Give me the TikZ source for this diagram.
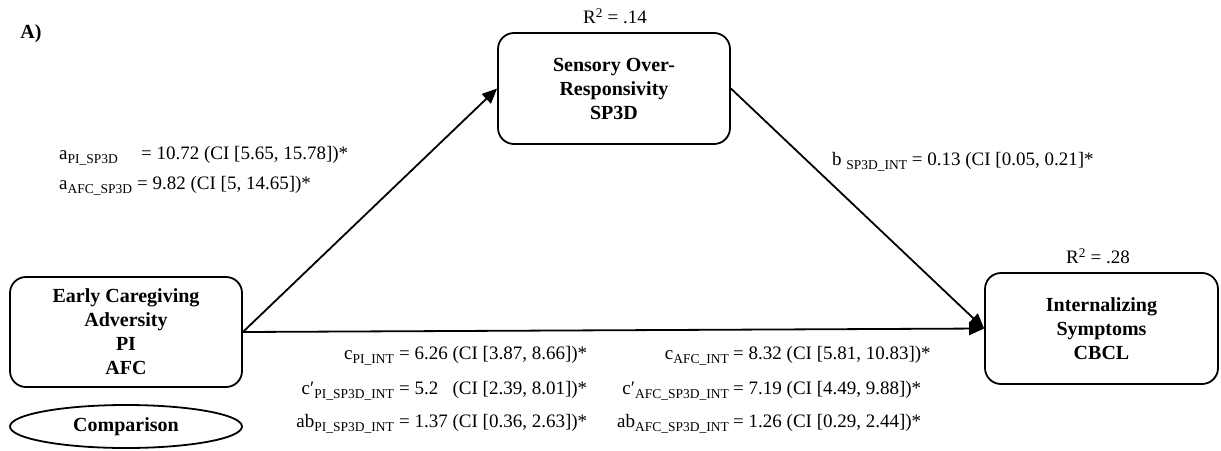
\documentclass[tikz,border=0pt]{standalone}
\usepackage{fontspec}
\setmainfont{Liberation Serif}
\usetikzlibrary{arrows.meta,shapes.geometric}
\newcommand{\sbs}[1]{\raisebox{-4.5pt}{\fontsize{13.5}{13.5}\selectfont #1}}
\newlength{\numw}
\tikzset{
  varbox/.style={draw, line width=1.8pt, rounded corners=16pt, minimum width=232pt,
    minimum height=111pt, align=center, inner sep=0pt,
    font=\fontsize{20}{24}\selectfont\bfseries},
  ovalbox/.style={draw, ellipse, line width=1.8pt, minimum width=232pt,
    minimum height=43pt, inner sep=0pt, font=\fontsize{20}{24}\selectfont\bfseries},
  lbl/.style={inner sep=0pt, font=\fontsize{19}{22}\selectfont},
  arr/.style={line width=1.8pt, -{Triangle[length=15pt,width=13pt]}}
}
\begin{document}
\begin{tikzpicture}[x=1pt,y=-1pt]
\useasboundingbox (0,0) rectangle (1221,450);

\node[inner sep=0pt, font=\fontsize{20}{24}\selectfont\bfseries] (title) at (31,34) {A)};

\node[varbox] (sens) at (614,88.5) {Sensory Over-\\Responsivity\\SP3D};
\node[varbox, minimum height=110pt] (early) at (126,332) {Early Caregiving\\Adversity\\PI\\AFC};
\node[varbox, minimum width=233pt] (int) at (1101.5,328.5) {Internalizing\\Symptoms\\CBCL};
\node[ovalbox] (comp) at (126,426.5) {Comparison};

\node[lbl] (r1) at (615,16) {R\textsuperscript{2} = .14};
\node[lbl] (r2) at (1098,256) {R\textsuperscript{2} = .28};

\draw[arr] (early.east) -- (sens.west);
\draw[arr] (sens.east) -- (int.west);
\draw[arr] (early.east) -- (int.west);

% a paths
\node[lbl, anchor=base west] (a1n) at (59,159) {a\sbs{PI\_SP3D}};
\node[lbl, anchor=base west] (a1v) at (141,159) {= 10.72 (CI [5.65, 15.78])*};
\node[lbl, anchor=base west] (a2n) at (59,189) {a\sbs{AFC\_SP3D}};
\node[lbl, anchor=base west] (a2v) at (137,189) {= 9.82 (CI [5, 14.65])*};

% b path
\node[lbl, anchor=base west] (b1) at (832,165) {b \sbs{SP3D\_INT} = 0.13 (CI [0.05, 0.21]*};

% left group
\node[lbl, anchor=base east] (l1n) at (394,359) {c\sbs{PI\_INT}};
\node[lbl, anchor=base west] (l1v) at (399,359) {= 6.26 (CI [3.87, 8.66])*};
\node[lbl, anchor=base east] (l2n) at (394,394) {c′\sbs{PI\_SP3D\_INT}};
\node[lbl, anchor=base west] (l2v) at (399,394) {= \settowidth{\numw}{6.26}\makebox[\numw][l]{5.2} (CI [2.39, 8.01])*};
\node[lbl, anchor=base east] (l3n) at (394,427) {ab\sbs{PI\_SP3D\_INT}};
\node[lbl, anchor=base west] (l3v) at (399,427) {= 1.37 (CI [0.36, 2.63])*};

% right group
\node[lbl, anchor=base east] (r1n) at (729,359) {c\sbs{AFC\_INT}};
\node[lbl, anchor=base west] (r1v) at (733,359) {= 8.32 (CI [5.81, 10.83])*};
\node[lbl, anchor=base east] (r2n) at (729,394) {c′\sbs{AFC\_SP3D\_INT}};
\node[lbl, anchor=base west] (r2v) at (733,394) {= 7.19 (CI [4.49, 9.88])*};
\node[lbl, anchor=base east] (r3n) at (729,427) {ab\sbs{AFC\_SP3D\_INT}};
\node[lbl, anchor=base west] (r3v) at (733,427) {= 1.26 (CI [0.29, 2.44])*};
\end{tikzpicture}
\end{document}
